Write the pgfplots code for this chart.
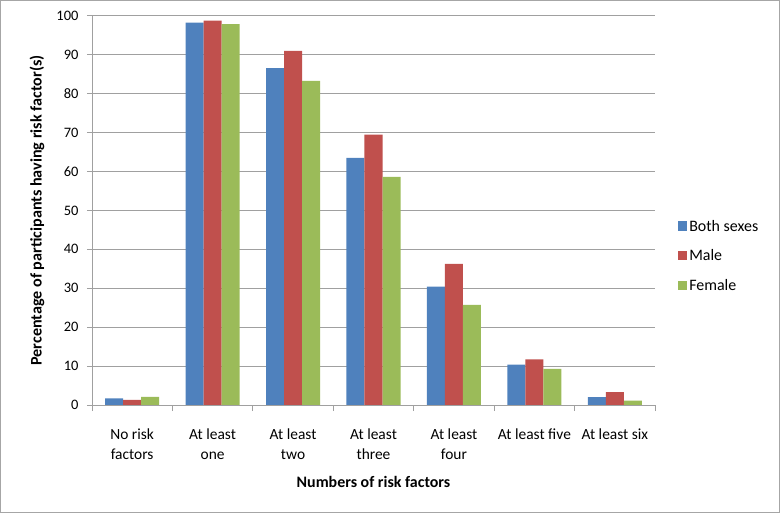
\documentclass[border=0pt]{standalone}
\usepackage{pgfplots}
\pgfplotsset{compat=1.18}
\usepackage{fontspec}
\setmainfont{Carlito}
\definecolor{cblue}{HTML}{4F81BD}
\definecolor{cred}{HTML}{C0504D}
\definecolor{cgreen}{HTML}{9BBB59}
\definecolor{gridc}{HTML}{A0A0A0}
\begin{document}
\begin{tikzpicture}[x=1bp,y=1bp]
\draw[gray!70, line width=0.8bp] (0.5,0.5) rectangle (779.5,512.5);
\begin{axis}[
  at={(92bp,108bp)}, anchor=south west,
  scale only axis, width=563bp, height=389bp,
  xmin=-0.5, xmax=6.5, ymin=0, ymax=100,
  ybar=0pt, bar width=0.224,
  xtick={0,...,6},
  xticklabels={{No risk\\factors},{At least\\one},{At least\\two},{At least\\three},{At least\\four},{At least five},{At least six}},
  xticklabel style={align=center, font=\fontsize{15.5}{20}\selectfont, text depth=0pt, yshift=-15bp},
  major x tick style={draw=none},
  minor xtick={-0.5,0.5,...,6.5},
  minor tick length=6bp,
  minor x tick style={gridc, line width=0.8bp},
  ytick={0,10,...,100},
  yticklabel style={font=\fontsize{14.5}{16}\selectfont, xshift=-5bp},
  /pgf/number format/assume math mode=true,
  ymajorgrids, grid style={gridc, line width=0.8bp},
  major y tick style={gridc, line width=0.8bp},
  major tick length=5bp,
  tick align=outside, tick pos=left,
  axis x line*=bottom, axis y line*=left,
  axis line style={gridc, line width=0.8bp},
  x axis line style={-}, y axis line style={-},
  xlabel={\textbf{Numbers of risk factors}},
  ylabel={\textbf{Percentage of participants having risk factor(s)}},
  xlabel style={font=\fontsize{16}{18}\selectfont, at={(axis description cs:0.5,-0.212)}, anchor=base},
  ylabel style={font=\fontsize{16.2}{18}\selectfont, at={(axis description cs:-0.0977,0.5)}, anchor=center, rotate=0},
  legend style={at={(1.04,0.383)}, anchor=west, draw=none, fill=none,
    font=\fontsize{16}{18}\selectfont, row sep=13bp, inner sep=0pt},
  legend cell align=left,
  legend image code/.code={\fill[#1] (0bp,-4.5bp) rectangle (9.5bp,5bp);},
]
\addplot[fill=cblue, draw=none] coordinates {(0,1.7) (1,98.3) (2,86.6) (3,63.5) (4,30.4) (5,10.4) (6,2.0)};
\addplot[fill=cred, draw=none] coordinates {(0,1.3) (1,98.8) (2,91.0) (3,69.5) (4,36.3) (5,11.7) (6,3.3)};
\addplot[fill=cgreen, draw=none] coordinates {(0,2.1) (1,97.9) (2,83.3) (3,58.6) (4,25.7) (5,9.3) (6,1.1)};
\legend{Both sexes, Male, Female}
\end{axis}
\end{tikzpicture}
\end{document}
